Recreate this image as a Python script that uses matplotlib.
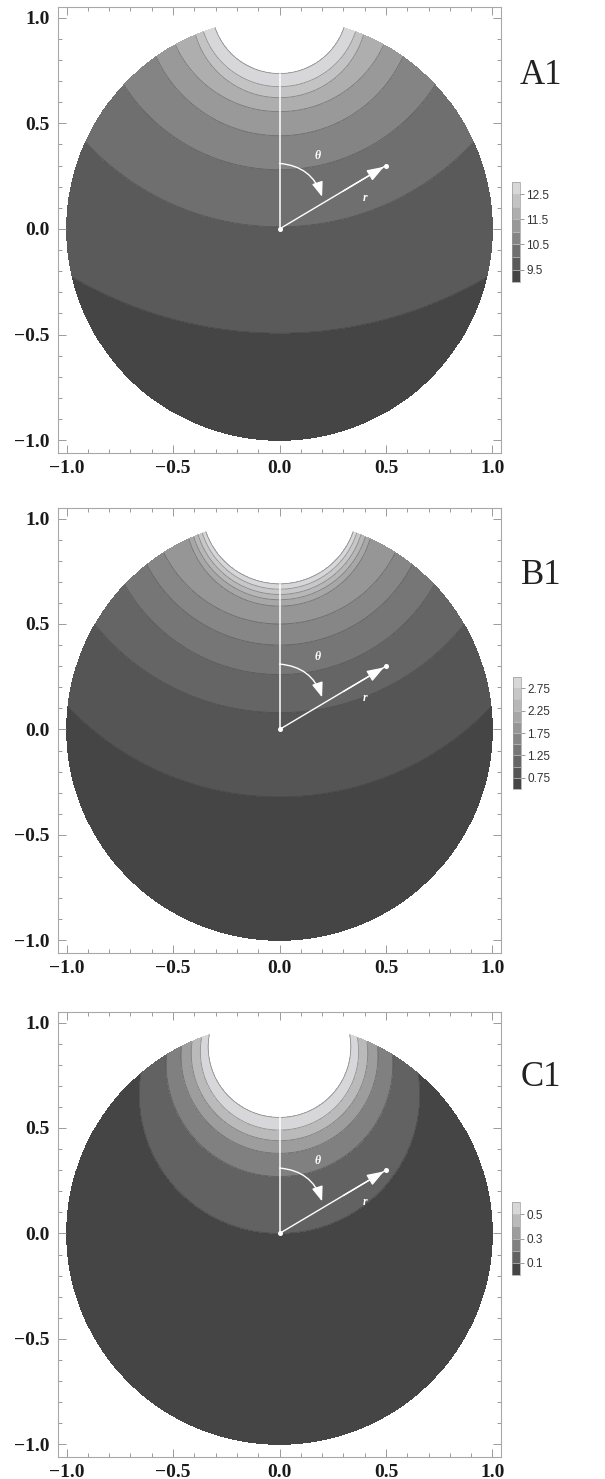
import numpy as np
import matplotlib
matplotlib.use("Agg")
import matplotlib.pyplot as plt
from matplotlib.colors import ListedColormap, BoundaryNorm
from matplotlib.cm import ScalarMappable
from matplotlib.patches import FancyArrowPatch, ArrowStyle
from matplotlib.ticker import FixedLocator, FixedFormatter, MultipleLocator

# ---------------- data ----------------
panel_names = ["A1", "B1", "C1"]

# contour levels (colour-bar boundaries)
a_levels = [9.0, 9.5, 10.0, 10.5, 11.0, 11.5, 12.0, 12.5, 13.0]
b_levels = [0.5, 0.75, 1.0, 1.25, 1.5, 1.75, 2.0, 2.25, 2.5, 2.75, 3.0]
c_levels = [0.0, 0.1, 0.2, 0.3, 0.4, 0.5, 0.6]

# y where each contour (levels[1:]) crosses the vertical axis x = 0
a_axis_y = [-0.493, 0.01, 0.28, 0.441, 0.555, 0.621, 0.673, 0.735]
b_axis_y = [-0.32, 0.08, 0.26, 0.40, 0.50, 0.585, 0.615, 0.64, 0.665, 0.69]
c_axis_y = [0.0, 0.27, 0.38, 0.44, 0.49, 0.55]

# y where each contour meets the rim of the unit disc
a_rim_y = [-0.227, 0.412, 0.682, 0.815, 0.872, 0.919, 0.934, 0.953]
b_rim_y = [0.109, 0.498, 0.687, 0.782, 0.839, 0.905, 0.915, 0.924, 0.932, 0.938]
c_rim_y = [0.76, 0.848, 0.888, 0.912, 0.931, 0.944]

# colour-bar tick labels
a_cb_ticks = ["9.5", "10.5", "11.5", "12.5"]
b_cb_ticks = ["0.75", "1.25", "1.75", "2.25", "2.75"]
c_cb_ticks = ["0.1", "0.3", "0.5"]

axis_ticks = [-1.0, -0.5, 0.0, 0.5, 1.0]
axis_tick_labels = ["\u22121.0", "\u22120.5", "0.0", "0.5", "1.0"]

panels = [
    (a_levels, a_axis_y, a_rim_y, a_cb_ticks),
    (b_levels, b_axis_y, b_rim_y, b_cb_ticks),
    (c_levels, c_axis_y, c_rim_y, c_cb_ticks),
]

# ---------------- layout (pixels of the 605 x 1479 reference) ----------------
W, H = 605.0, 1479.0
ax_px = [(58, 7, 501, 453), (58, 508, 501, 953), (58, 1012, 501, 1457)]
cb_px = [(512, 182, 520, 282), (513, 677, 521, 789), (512, 1202, 520, 1275)]
lab_px = [(541, 75), (541, 575), (541, 1077)]


def build_field(X, Y, levels, axis_y, rim_y):
    lv = np.asarray(levels, float)
    ya = np.asarray(axis_y, float)
    yr = np.asarray(rim_y, float)
    c = (1 - ya ** 2) / (2 * (yr - ya))       # circle centres on the y axis
    R = c - ya                                  # circle radii
    G = np.array([np.hypot(X, Y - ci) / Ri - 1 for ci, Ri in zip(c, R)])
    dl = lv[1] - lv[0]
    bnd = lv[1:]
    K = len(bnd)
    F = bnd[0] - dl * np.clip(G[0] * 3, 0, 0.95)
    for j in range(K - 1):
        inside = G[j] <= 0
        t = np.clip(-G[j] / np.maximum(G[j + 1] - G[j], 1e-9), 0, 1)
        F = np.where(inside, bnd[j] + dl * t, F)
    inside = G[K - 1] <= 0
    F = np.where(inside, bnd[-1] + dl * np.clip(-G[K - 1] * 3, 0, 1), F)
    F = np.where(X ** 2 + Y ** 2 <= 1.0, F, np.nan)
    return F


def grays(n):
    v = np.linspace(0.27, 0.845, n)
    return [(g, g, g * 1.005 if g * 1.005 <= 1 else 1) for g in v]


fig = plt.figure(figsize=(6.05, 14.79), dpi=100)

xs = np.linspace(-1.05, 1.05, 900)
X, Y = np.meshgrid(xs, xs)

serif = "Liberation Serif"
sans = "Liberation Sans"

for i, (levels, axis_y, rim_y, cb_ticks) in enumerate(panels):
    l, t, r, b = ax_px[i]
    ax = fig.add_axes([l / W, 1 - b / H, (r - l) / W, (b - t) / H])
    F = build_field(X, Y, levels, axis_y, rim_y)
    cols = grays(len(levels) - 1)
    ax.contourf(X, Y, F, levels=levels, colors=cols)
    ax.contour(X, Y, F, levels=levels[1:], colors=[(0.22, 0.22, 0.22)],
               linewidths=0.6, alpha=0.45)

    # white overlays: axis line, theta arc, r arrow
    ax.plot([0, 0], [0, axis_y[-1]], color="white", lw=1.1, zorder=5)
    arc = FancyArrowPatch((0.0, 0.31), (0.2, 0.152),
                          connectionstyle="arc3,rad=-0.33",
                          arrowstyle=ArrowStyle("-|>", head_length=0.75, head_width=0.28),
                          mutation_scale=12, color="white", lw=1.0, zorder=6,
                          shrinkA=0, shrinkB=0)
    ax.add_patch(arc)
    ax.plot([0, 0.5], [0, 0.3], color="white", lw=1.0, zorder=5)
    rarr = FancyArrowPatch((0.3, 0.18), (0.49, 0.294),
                           arrowstyle=ArrowStyle("-|>", head_length=0.85, head_width=0.3),
                           mutation_scale=12, color="white", lw=1.0, zorder=6,
                           shrinkA=0, shrinkB=0)
    ax.add_patch(rarr)
    ax.plot([0, 0.5], [0, 0.3], "o", ms=2.6, color="white", mec="white", zorder=7)
    ax.text(0.18, 0.345, "\u03b8", color="white", fontsize=8.5, family=serif,
            style="italic", weight="bold", ha="center", va="center", zorder=7)
    ax.text(0.40, 0.147, "r", color="white", fontsize=8.5, family=serif,
            style="italic", weight="bold", ha="center", va="center", zorder=7)

    # axes styling
    ax.set_xlim(-1.04, 1.04)
    ax.set_ylim(-1.06, 1.05)
    for a in (ax.xaxis, ax.yaxis):
        a.set_major_locator(FixedLocator(axis_ticks))
        a.set_major_formatter(FixedFormatter(axis_tick_labels))
        a.set_minor_locator(MultipleLocator(0.1))
    ax.tick_params(which="both", direction="in", top=True, right=True,
                   color="#9a9a9a", width=0.7)
    ax.tick_params(which="major", length=5.5)
    ax.tick_params(which="minor", length=3)
    ax.tick_params(axis="x", which="major", pad=5)
    ax.tick_params(axis="y", which="major", pad=6)
    for lab in ax.get_xticklabels() + ax.get_yticklabels():
        lab.set_fontfamily(serif)
        lab.set_fontweight("bold")
        lab.set_fontsize(14)
        lab.set_color("#1a1a1a")
    for sp in ax.spines.values():
        sp.set_color("#a8a8a8")
        sp.set_linewidth(0.8)

    # colour bar
    cl, ct, cr, cbm = cb_px[i]
    cax = fig.add_axes([cl / W, 1 - cbm / H, (cr - cl) / W, (cbm - ct) / H])
    norm = BoundaryNorm(levels, len(cols))
    sm = ScalarMappable(norm=norm, cmap=ListedColormap(cols))
    cb = fig.colorbar(sm, cax=cax, drawedges=True)
    cb.set_ticks([float(s) for s in cb_ticks])
    cb.set_ticklabels(cb_ticks)
    cb.outline.set_edgecolor("#9a9a9a")
    cb.outline.set_linewidth(0.5)
    cb.dividers.set_color("#c8c8c8")
    cb.dividers.set_linewidth(0.5)
    cax.tick_params(length=3, width=0.6, color="#8a8a8a", pad=1.5)
    for lab in cax.get_yticklabels():
        lab.set_fontfamily(sans)
        lab.set_fontsize(8.5)
        lab.set_color("#333333")
    cax.minorticks_off()

    # panel label
    lx, ly = lab_px[i]
    fig.text(lx / W, 1 - ly / H, panel_names[i], family=serif, fontsize=25,
             ha="center", va="center", color="#222222")

fig.savefig("out.png", dpi=100, facecolor="white")
